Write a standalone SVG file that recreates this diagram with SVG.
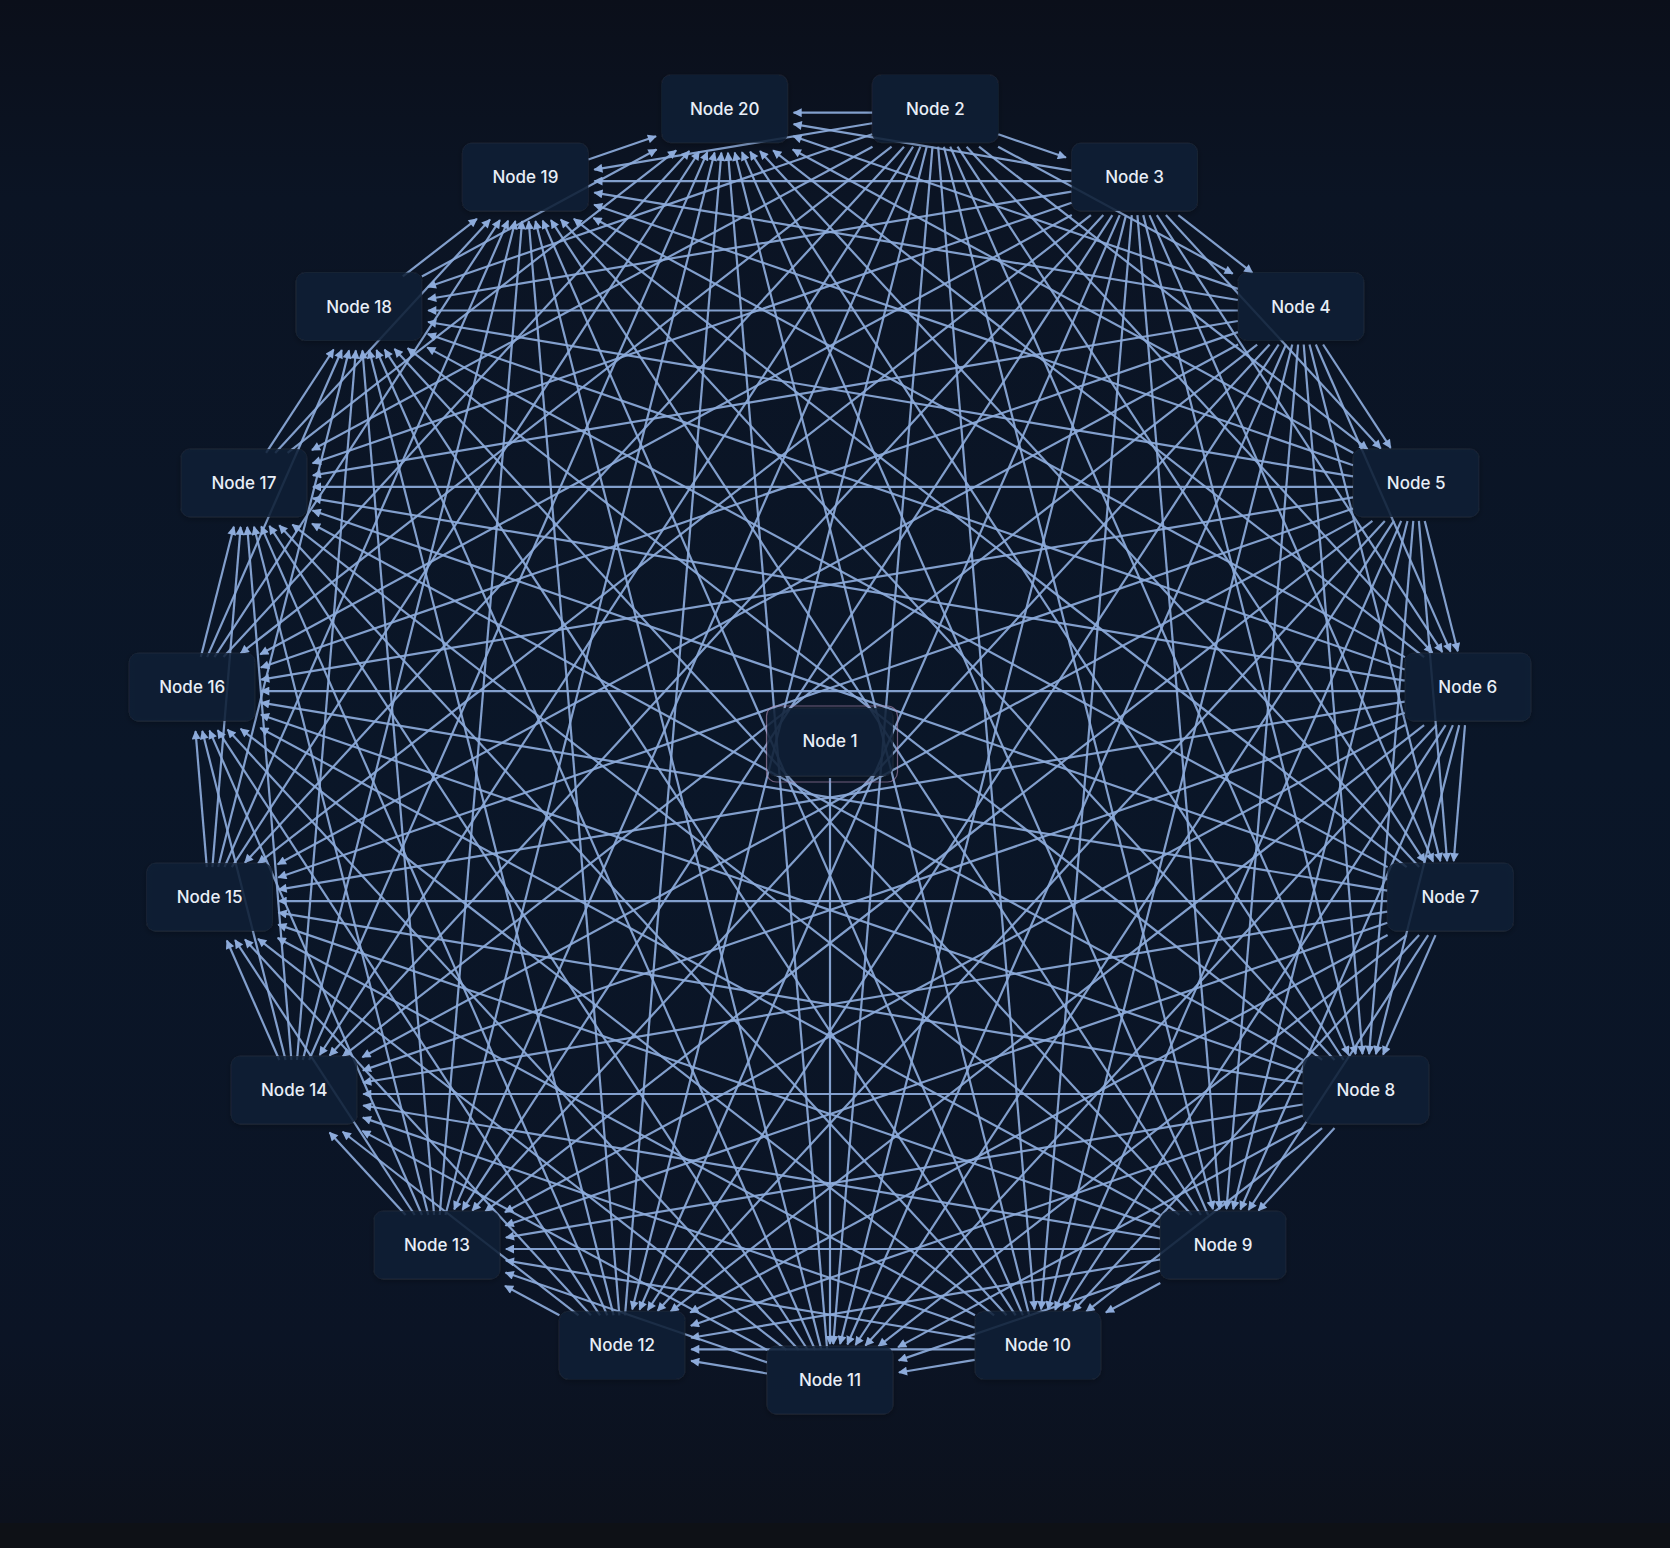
<svg xmlns="http://www.w3.org/2000/svg" width="1670" height="1548" viewBox="0 0 1670 1548">
<defs>
<linearGradient id="bg" x1="0" y1="0" x2="0" y2="1">
<stop offset="0" stop-color="#0b0f1a"/>
<stop offset="0.13" stop-color="#0b1424"/>
<stop offset="0.5" stop-color="#0a1628"/>
<stop offset="0.88" stop-color="#0b1425"/>
<stop offset="1" stop-color="#0c111c"/>
</linearGradient>
<marker id="arrow" viewBox="0 0 10 10" refX="9" refY="5" markerWidth="11" markerHeight="9" markerUnits="userSpaceOnUse" orient="auto">
<path d="M0,0 L10,5 L0,10 z" fill="#8dabdb"/>
</marker>
<filter id="shadow" x="-20%" y="-30%" width="140%" height="170%">
<feDropShadow dx="0" dy="2" stdDeviation="3" flood-color="#000000" flood-opacity="0.35"/>
</filter>
<style>
.edges line{stroke:#8dabdb;stroke-width:2.2;stroke-opacity:0.92;marker-end:url(#arrow);fill:none}
.node rect.box{fill:#122036;fill-opacity:0.84;stroke:#ffffff;stroke-opacity:0.04;stroke-width:1}
.node text{font-family:Inter,"Noto Sans","Liberation Sans",sans-serif;font-size:17px;font-weight:500;fill:#e8eef7;text-anchor:middle;dominant-baseline:central}
.ring{fill:none;stroke:#b48fb8;stroke-opacity:0.6;stroke-width:1.2}
</style>
</defs>
<rect x="0" y="0" width="1670" height="1523" fill="url(#bg)"/>
<rect x="0" y="1523" width="1670" height="25" fill="#0e1116"/>
<g id="edges" class="edges" transform="translate(0,6)">
<line x1="830" y1="772" x2="830" y2="1338"/>
<g transform="translate(935.3,106.7)">
<line x1="66.6" x2="138.1" transform="rotate(18.947)"/>
<line x1="71.4" x2="338.2" transform="rotate(28.421)"/>
<line x1="55.4" x2="547.8" transform="rotate(37.895)"/>
<line x1="46.2" x2="734" transform="rotate(47.368)"/>
<line x1="40.6" x2="895.1" transform="rotate(56.842)"/>
<line x1="37.1" x2="1028.5" transform="rotate(66.316)"/>
<line x1="35.1" x2="1131.1" transform="rotate(75.789)"/>
<line x1="34.1" x2="1200.7" transform="rotate(85.263)"/>
<line x1="34.1" x2="1235.5" transform="rotate(94.737)"/>
<line x1="35.1" x2="1234.5" transform="rotate(104.211)"/>
<line x1="37.1" x2="1197.7" transform="rotate(113.684)"/>
<line x1="40.6" x2="1125.6" transform="rotate(123.158)"/>
<line x1="46.2" x2="1019.4" transform="rotate(132.632)"/>
<line x1="55.4" x2="880.3" transform="rotate(142.105)"/>
<line x1="71.4" x2="708.8" transform="rotate(151.579)"/>
<line x1="66.6" x2="536.6" transform="rotate(161.053)"/>
<line x1="63.9" x2="345.7" transform="rotate(170.526)"/>
<line x1="63" x2="141.7" transform="rotate(180)"/>
</g>
<g transform="translate(1134.6,175.1)">
<line x1="55.4" x2="149.3" transform="rotate(37.895)"/>
<line x1="46.2" x2="363.4" transform="rotate(47.368)"/>
<line x1="40.6" x2="562.6" transform="rotate(56.842)"/>
<line x1="37.1" x2="743.1" transform="rotate(66.316)"/>
<line x1="35.1" x2="900.6" transform="rotate(75.789)"/>
<line x1="34.1" x2="1031.5" transform="rotate(85.263)"/>
<line x1="34.1" x2="1132.1" transform="rotate(94.737)"/>
<line x1="35.1" x2="1199.7" transform="rotate(104.211)"/>
<line x1="37.1" x2="1232.5" transform="rotate(113.684)"/>
<line x1="40.6" x2="1229" transform="rotate(123.158)"/>
<line x1="46.2" x2="1188.6" transform="rotate(132.632)"/>
<line x1="55.4" x2="1110.8" transform="rotate(142.105)"/>
<line x1="71.4" x2="994.2" transform="rotate(151.579)"/>
<line x1="66.6" x2="869.1" transform="rotate(161.053)"/>
<line x1="63.9" x2="716.3" transform="rotate(170.526)"/>
<line x1="63" x2="540.2" transform="rotate(180)"/>
<line x1="63.9" x2="345.7" transform="rotate(189.474)"/>
</g>
<g transform="translate(1300.9,304.5)">
<line x1="40.6" x2="164.1" transform="rotate(56.842)"/>
<line x1="37.1" x2="372.5" transform="rotate(66.316)"/>
<line x1="35.1" x2="568.1" transform="rotate(75.789)"/>
<line x1="34.1" x2="746.1" transform="rotate(85.263)"/>
<line x1="34.1" x2="901.6" transform="rotate(94.737)"/>
<line x1="35.1" x2="1030.5" transform="rotate(104.211)"/>
<line x1="37.1" x2="1129.1" transform="rotate(113.684)"/>
<line x1="40.6" x2="1194.2" transform="rotate(123.158)"/>
<line x1="46.2" x2="1223.4" transform="rotate(132.632)"/>
<line x1="55.4" x2="1214.2" transform="rotate(142.105)"/>
<line x1="71.4" x2="1163.4" transform="rotate(151.579)"/>
<line x1="66.6" x2="1099.6" transform="rotate(161.053)"/>
<line x1="63.9" x2="1001.7" transform="rotate(170.526)"/>
<line x1="63" x2="872.7" transform="rotate(180)"/>
<line x1="63.9" x2="716.3" transform="rotate(189.474)"/>
<line x1="66.6" x2="536.6" transform="rotate(198.947)"/>
</g>
<g transform="translate(1416.1,480.9)">
<line x1="35.1" x2="169.6" transform="rotate(75.789)"/>
<line x1="34.1" x2="375.5" transform="rotate(85.263)"/>
<line x1="34.1" x2="569.1" transform="rotate(94.737)"/>
<line x1="35.1" x2="745.1" transform="rotate(104.211)"/>
<line x1="37.1" x2="898.6" transform="rotate(113.684)"/>
<line x1="40.6" x2="1025" transform="rotate(123.158)"/>
<line x1="46.2" x2="1120" transform="rotate(132.632)"/>
<line x1="55.4" x2="1179.4" transform="rotate(142.105)"/>
<line x1="71.4" x2="1198.2" transform="rotate(151.579)"/>
<line x1="66.6" x2="1203" transform="rotate(161.053)"/>
<line x1="63.9" x2="1170.9" transform="rotate(170.526)"/>
<line x1="63" x2="1103.2" transform="rotate(180)"/>
<line x1="63.9" x2="1001.7" transform="rotate(189.474)"/>
<line x1="66.6" x2="869.1" transform="rotate(198.947)"/>
<line x1="71.4" x2="708.8" transform="rotate(208.421)"/>
</g>
<g transform="translate(1467.8,685.1)">
<line x1="34.1" x2="170.6" transform="rotate(94.737)"/>
<line x1="35.1" x2="374.5" transform="rotate(104.211)"/>
<line x1="37.1" x2="566.1" transform="rotate(113.684)"/>
<line x1="40.6" x2="739.6" transform="rotate(123.158)"/>
<line x1="46.2" x2="889.5" transform="rotate(132.632)"/>
<line x1="55.4" x2="1010.2" transform="rotate(142.105)"/>
<line x1="71.4" x2="1094.8" transform="rotate(151.579)"/>
<line x1="66.6" x2="1168.2" transform="rotate(161.053)"/>
<line x1="63.9" x2="1205.7" transform="rotate(170.526)"/>
<line x1="63" x2="1206.6" transform="rotate(180)"/>
<line x1="63.9" x2="1170.9" transform="rotate(189.474)"/>
<line x1="66.6" x2="1099.6" transform="rotate(198.947)"/>
<line x1="71.4" x2="994.2" transform="rotate(208.421)"/>
<line x1="55.4" x2="880.3" transform="rotate(217.895)"/>
</g>
<g transform="translate(1450.4,895.1)">
<line x1="37.1" x2="167.6" transform="rotate(113.684)"/>
<line x1="40.6" x2="369" transform="rotate(123.158)"/>
<line x1="46.2" x2="557" transform="rotate(132.632)"/>
<line x1="55.4" x2="724.8" transform="rotate(142.105)"/>
<line x1="71.4" x2="864.3" transform="rotate(151.579)"/>
<line x1="66.6" x2="999" transform="rotate(161.053)"/>
<line x1="63.9" x2="1102.3" transform="rotate(170.526)"/>
<line x1="63" x2="1171.8" transform="rotate(180)"/>
<line x1="63.9" x2="1205.7" transform="rotate(189.474)"/>
<line x1="66.6" x2="1203" transform="rotate(198.947)"/>
<line x1="71.4" x2="1163.4" transform="rotate(208.421)"/>
<line x1="55.4" x2="1110.8" transform="rotate(217.895)"/>
<line x1="46.2" x2="1019.4" transform="rotate(227.368)"/>
</g>
<g transform="translate(1365.8,1088)">
<line x1="46.2" x2="158.5" transform="rotate(132.632)"/>
<line x1="55.4" x2="354.2" transform="rotate(142.105)"/>
<line x1="71.4" x2="531.8" transform="rotate(151.579)"/>
<line x1="66.6" x2="713.6" transform="rotate(161.053)"/>
<line x1="63.9" x2="871.8" transform="rotate(170.526)"/>
<line x1="63" x2="1002.6" transform="rotate(180)"/>
<line x1="63.9" x2="1102.3" transform="rotate(189.474)"/>
<line x1="66.6" x2="1168.2" transform="rotate(198.947)"/>
<line x1="71.4" x2="1198.2" transform="rotate(208.421)"/>
<line x1="55.4" x2="1214.2" transform="rotate(217.895)"/>
<line x1="46.2" x2="1188.6" transform="rotate(227.368)"/>
<line x1="40.6" x2="1125.6" transform="rotate(236.842)"/>
</g>
<g transform="translate(1223.1,1243)">
<line x1="71.4" x2="133.3" transform="rotate(151.579)"/>
<line x1="66.6" x2="343" transform="rotate(161.053)"/>
<line x1="63.9" x2="539.3" transform="rotate(170.526)"/>
<line x1="63" x2="717.2" transform="rotate(180)"/>
<line x1="63.9" x2="871.8" transform="rotate(189.474)"/>
<line x1="66.6" x2="999" transform="rotate(198.947)"/>
<line x1="71.4" x2="1094.8" transform="rotate(208.421)"/>
<line x1="55.4" x2="1179.4" transform="rotate(217.895)"/>
<line x1="46.2" x2="1223.4" transform="rotate(227.368)"/>
<line x1="40.6" x2="1229" transform="rotate(236.842)"/>
<line x1="37.1" x2="1197.7" transform="rotate(246.316)"/>
</g>
<g transform="translate(1037.8,1343.3)">
<line x1="63.9" x2="140.8" transform="rotate(170.526)"/>
<line x1="63" x2="346.6" transform="rotate(180)"/>
<line x1="63.9" x2="539.3" transform="rotate(189.474)"/>
<line x1="66.6" x2="713.6" transform="rotate(198.947)"/>
<line x1="71.4" x2="864.3" transform="rotate(208.421)"/>
<line x1="55.4" x2="1010.2" transform="rotate(217.895)"/>
<line x1="46.2" x2="1120" transform="rotate(227.368)"/>
<line x1="40.6" x2="1194.2" transform="rotate(236.842)"/>
<line x1="37.1" x2="1232.5" transform="rotate(246.316)"/>
<line x1="35.1" x2="1234.5" transform="rotate(255.789)"/>
</g>
<g transform="translate(830,1378)">
<line x1="63.9" x2="140.8" transform="rotate(189.474)"/>
<line x1="66.6" x2="343" transform="rotate(198.947)"/>
<line x1="71.4" x2="531.8" transform="rotate(208.421)"/>
<line x1="55.4" x2="724.8" transform="rotate(217.895)"/>
<line x1="46.2" x2="889.5" transform="rotate(227.368)"/>
<line x1="40.6" x2="1025" transform="rotate(236.842)"/>
<line x1="37.1" x2="1129.1" transform="rotate(246.316)"/>
<line x1="35.1" x2="1199.7" transform="rotate(255.789)"/>
<line x1="34.1" x2="1235.5" transform="rotate(265.263)"/>
</g>
<g transform="translate(622.2,1343.3)">
<line x1="71.4" x2="133.3" transform="rotate(208.421)"/>
<line x1="55.4" x2="354.2" transform="rotate(217.895)"/>
<line x1="46.2" x2="557" transform="rotate(227.368)"/>
<line x1="40.6" x2="739.6" transform="rotate(236.842)"/>
<line x1="37.1" x2="898.6" transform="rotate(246.316)"/>
<line x1="35.1" x2="1030.5" transform="rotate(255.789)"/>
<line x1="34.1" x2="1132.1" transform="rotate(265.263)"/>
<line x1="34.1" x2="1200.7" transform="rotate(274.737)"/>
</g>
<g transform="translate(436.9,1243)">
<line x1="46.2" x2="158.5" transform="rotate(227.368)"/>
<line x1="40.6" x2="369" transform="rotate(236.842)"/>
<line x1="37.1" x2="566.1" transform="rotate(246.316)"/>
<line x1="35.1" x2="745.1" transform="rotate(255.789)"/>
<line x1="34.1" x2="901.6" transform="rotate(265.263)"/>
<line x1="34.1" x2="1031.5" transform="rotate(274.737)"/>
<line x1="35.1" x2="1131.1" transform="rotate(284.211)"/>
</g>
<g transform="translate(294.2,1088)">
<line x1="37.1" x2="167.6" transform="rotate(246.316)"/>
<line x1="35.1" x2="374.5" transform="rotate(255.789)"/>
<line x1="34.1" x2="569.1" transform="rotate(265.263)"/>
<line x1="34.1" x2="746.1" transform="rotate(274.737)"/>
<line x1="35.1" x2="900.6" transform="rotate(284.211)"/>
<line x1="37.1" x2="1028.5" transform="rotate(293.684)"/>
</g>
<g transform="translate(209.6,895.1)">
<line x1="34.1" x2="170.6" transform="rotate(265.263)"/>
<line x1="34.1" x2="375.5" transform="rotate(274.737)"/>
<line x1="35.1" x2="568.1" transform="rotate(284.211)"/>
<line x1="37.1" x2="743.1" transform="rotate(293.684)"/>
<line x1="40.6" x2="895.1" transform="rotate(303.158)"/>
</g>
<g transform="translate(192.2,685.1)">
<line x1="35.1" x2="169.6" transform="rotate(284.211)"/>
<line x1="37.1" x2="372.5" transform="rotate(293.684)"/>
<line x1="40.6" x2="562.6" transform="rotate(303.158)"/>
<line x1="46.2" x2="734" transform="rotate(312.632)"/>
</g>
<g transform="translate(243.9,480.9)">
<line x1="40.6" x2="164.1" transform="rotate(303.158)"/>
<line x1="46.2" x2="363.4" transform="rotate(312.632)"/>
<line x1="55.4" x2="547.8" transform="rotate(322.105)"/>
</g>
<g transform="translate(359.1,304.5)">
<line x1="55.4" x2="149.3" transform="rotate(322.105)"/>
<line x1="71.4" x2="338.2" transform="rotate(331.579)"/>
</g>
<g transform="translate(525.4,175.1)">
<line x1="66.6" x2="138.1" transform="rotate(341.053)"/>
</g>
</g>
<g id="nodes" transform="translate(0,2)">
<g id="node-1" class="node" transform="translate(830,740)">
<rect class="box" x="-63" y="-34" width="126" height="68" rx="9" filter="url(#shadow)"/>
<rect class="ring" x="-63.5" y="-36" width="131" height="76" rx="10"/>
<text x="0" y="-1">Node 1</text>
</g>
<g id="node-2" class="node" transform="translate(935.3,106.7)"><rect class="box" x="-63" y="-34" width="126" height="68" rx="9" filter="url(#shadow)"/><text x="0" y="0">Node 2</text></g>
<g id="node-3" class="node" transform="translate(1134.6,175.1)"><rect class="box" x="-63" y="-34" width="126" height="68" rx="9" filter="url(#shadow)"/><text x="0" y="0">Node 3</text></g>
<g id="node-4" class="node" transform="translate(1300.9,304.5)"><rect class="box" x="-63" y="-34" width="126" height="68" rx="9" filter="url(#shadow)"/><text x="0" y="0">Node 4</text></g>
<g id="node-5" class="node" transform="translate(1416.1,480.9)"><rect class="box" x="-63" y="-34" width="126" height="68" rx="9" filter="url(#shadow)"/><text x="0" y="0">Node 5</text></g>
<g id="node-6" class="node" transform="translate(1467.8,685.1)"><rect class="box" x="-63" y="-34" width="126" height="68" rx="9" filter="url(#shadow)"/><text x="0" y="0">Node 6</text></g>
<g id="node-7" class="node" transform="translate(1450.4,895.1)"><rect class="box" x="-63" y="-34" width="126" height="68" rx="9" filter="url(#shadow)"/><text x="0" y="0">Node 7</text></g>
<g id="node-8" class="node" transform="translate(1365.8,1088)"><rect class="box" x="-63" y="-34" width="126" height="68" rx="9" filter="url(#shadow)"/><text x="0" y="0">Node 8</text></g>
<g id="node-9" class="node" transform="translate(1223.1,1243)"><rect class="box" x="-63" y="-34" width="126" height="68" rx="9" filter="url(#shadow)"/><text x="0" y="0">Node 9</text></g>
<g id="node-10" class="node" transform="translate(1037.8,1343.3)"><rect class="box" x="-63" y="-34" width="126" height="68" rx="9" filter="url(#shadow)"/><text x="0" y="0">Node 10</text></g>
<g id="node-11" class="node" transform="translate(830,1378)"><rect class="box" x="-63" y="-34" width="126" height="68" rx="9" filter="url(#shadow)"/><text x="0" y="0">Node 11</text></g>
<g id="node-12" class="node" transform="translate(622.2,1343.3)"><rect class="box" x="-63" y="-34" width="126" height="68" rx="9" filter="url(#shadow)"/><text x="0" y="0">Node 12</text></g>
<g id="node-13" class="node" transform="translate(436.9,1243)"><rect class="box" x="-63" y="-34" width="126" height="68" rx="9" filter="url(#shadow)"/><text x="0" y="0">Node 13</text></g>
<g id="node-14" class="node" transform="translate(294.2,1088)"><rect class="box" x="-63" y="-34" width="126" height="68" rx="9" filter="url(#shadow)"/><text x="0" y="0">Node 14</text></g>
<g id="node-15" class="node" transform="translate(209.6,895.1)"><rect class="box" x="-63" y="-34" width="126" height="68" rx="9" filter="url(#shadow)"/><text x="0" y="0">Node 15</text></g>
<g id="node-16" class="node" transform="translate(192.2,685.1)"><rect class="box" x="-63" y="-34" width="126" height="68" rx="9" filter="url(#shadow)"/><text x="0" y="0">Node 16</text></g>
<g id="node-17" class="node" transform="translate(243.9,480.9)"><rect class="box" x="-63" y="-34" width="126" height="68" rx="9" filter="url(#shadow)"/><text x="0" y="0">Node 17</text></g>
<g id="node-18" class="node" transform="translate(359.1,304.5)"><rect class="box" x="-63" y="-34" width="126" height="68" rx="9" filter="url(#shadow)"/><text x="0" y="0">Node 18</text></g>
<g id="node-19" class="node" transform="translate(525.4,175.1)"><rect class="box" x="-63" y="-34" width="126" height="68" rx="9" filter="url(#shadow)"/><text x="0" y="0">Node 19</text></g>
<g id="node-20" class="node" transform="translate(724.7,106.7)"><rect class="box" x="-63" y="-34" width="126" height="68" rx="9" filter="url(#shadow)"/><text x="0" y="0">Node 20</text></g>
</g>
</svg>
